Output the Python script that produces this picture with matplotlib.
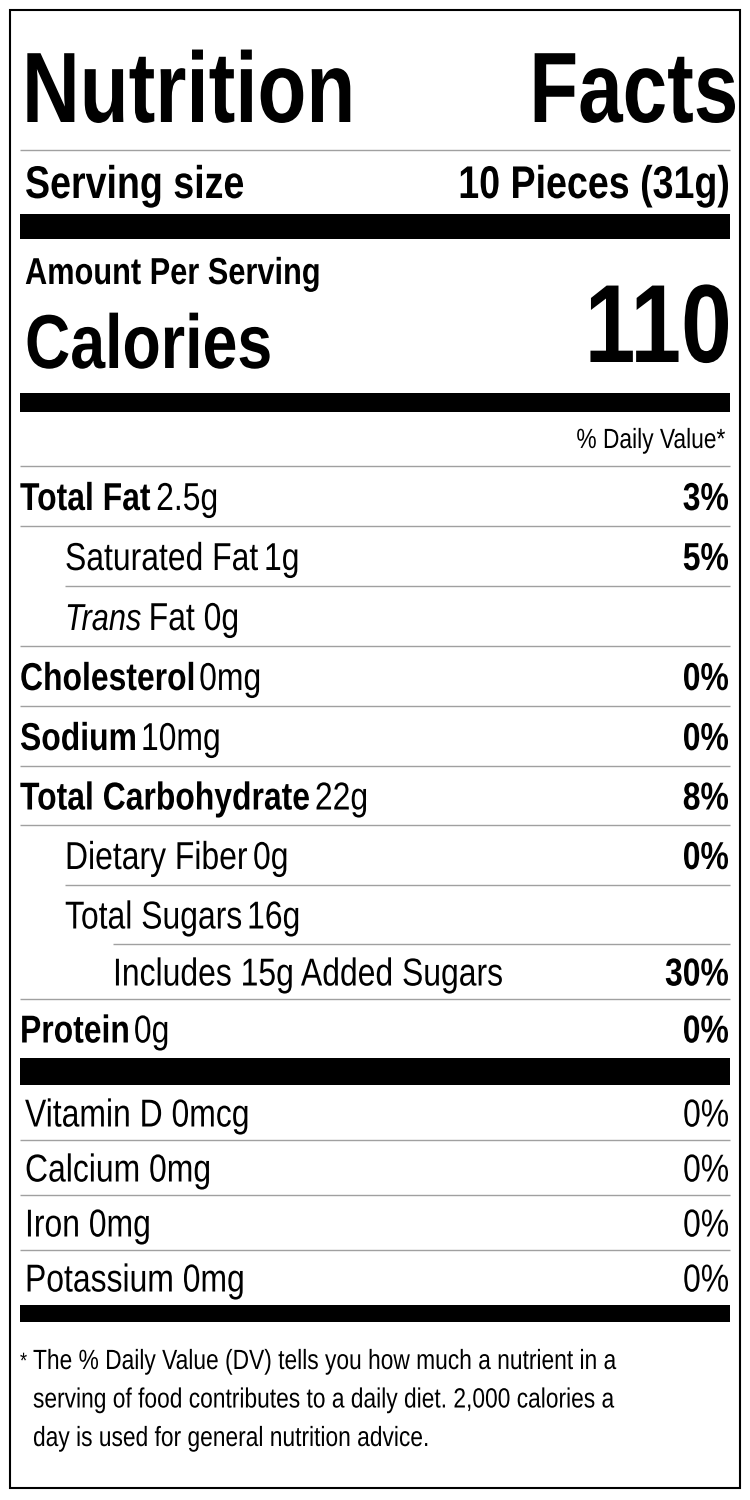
import matplotlib.pyplot as plt
from matplotlib.patches import Rectangle, PathPatch
from matplotlib.textpath import TextPath
from matplotlib.font_manager import FontProperties
from matplotlib.transforms import Affine2D

# ---- label data
SERVING      = '10 Pieces (31g)'
CALORIES     = '110'
NUTRIENTS    = ['Total Fat', 'Saturated Fat', 'Trans Fat', 'Cholesterol', 'Sodium',
                'Total Carbohydrate', 'Dietary Fiber', 'Total Sugars',
                'Includes 15g Added Sugars', 'Protein']
AMOUNTS      = ['2.5g', '1g', '0g', '0mg', '10mg', '22g', '0g', '16g', '', '0g']
DAILY        = ['3%', '5%', '', '0%', '0%', '8%', '0%', '', '30%', '0%']
LEVEL        = [0, 1, 1, 0, 0, 0, 1, 1, 2, 0]
VITAMINS     = ['Vitamin D 0mcg', 'Calcium 0mg', 'Iron 0mg', 'Potassium 0mg']
VIT_DAILY    = ['0%', '0%', '0%', '0%']
FOOTNOTE     = ['The % Daily Value (DV) tells you how much a nutrient in a',
                'serving of food contributes to a daily diet. 2,000 calories a',
                'day is used for general nutrition advice.']

FAMILY = 'Liberation Sans'
SQUEEZE = 0.82   # fake a narrow face by squashing horizontally

fig = plt.figure(figsize=(7.5, 15), dpi=100)
ax = fig.add_axes([0, 0, 1, 1])
ax.set_xlim(0, 750)
ax.set_ylim(1500, 0)
ax.axis('off')


def ntext(x, y, s, size, weight='normal', style='normal', ha='left', sq=SQUEEZE):
    '''Draw narrow text as a path; y is baseline, size in points. Returns right edge.'''
    fp = FontProperties(family=FAMILY, weight=weight, style=style)
    px = size * 100 / 72
    tp = TextPath((0, 0), s, size=px, prop=fp)
    ext = tp.get_extents()
    w = ext.x1 * sq
    if ha == 'right':
        x0 = x - w
    else:
        x0 = x
    tr = Affine2D().scale(sq, -1).translate(x0, y) + ax.transData
    ax.add_patch(PathPatch(tp, transform=tr, color='black', lw=0))
    return x0 + w


L, R = 20, 730

def hline(y, x0=L):
    ax.plot([x0, R], [y, y], color='#a0a0a0', lw=1.0, solid_capstyle='butt')

def bar(y0, y1):
    ax.add_patch(Rectangle((L, y0), R - L, y1 - y0, color='black', lw=0))

# border
ax.add_patch(Rectangle((10, 10), 730, 1478, fill=False, ec='black', lw=1.5))

# title
ntext(22, 122, 'Nutrition', 72, weight='bold', sq=0.80)
ntext(735, 122, 'Facts', 72, weight='bold', ha='right', sq=0.80)
hline(150)

ntext(25, 198, 'Serving size', 33, weight='bold')
ntext(728, 198, SERVING, 33, weight='bold', ha='right')
bar(214, 239)

ntext(25, 284, 'Amount Per Serving', 27, weight='bold')
ntext(25, 368, 'Calories', 55, weight='bold')
ntext(728, 362, CALORIES, 80, weight='bold', ha='right')
bar(393, 412)

ntext(725, 448, '% Daily Value*', 20, ha='right')
hline(466)

indent = [20, 65, 113]
rows_y = [466, 526, 586, 646, 706, 766, 825, 885, 944, 999, 1058]
for i, name in enumerate(NUTRIENTS):
    top, bot = rows_y[i], rows_y[i + 1]
    base = (top + bot) / 2 + 14
    x = indent[LEVEL[i]]
    bold = LEVEL[i] == 0
    if name == 'Trans Fat':
        xe = ntext(x, base, 'Trans', 27, style='italic')
        ntext(xe + 8, base, 'Fat ' + AMOUNTS[i], 28)
    else:
        xe = ntext(x, base, name, 28, weight='bold' if bold else 'normal')
        if AMOUNTS[i]:
            ntext(xe + 6, base, AMOUNTS[i], 28)
    if DAILY[i]:
        ntext(728, base, DAILY[i], 28, weight='bold', ha='right')
    if i + 1 < len(NUTRIENTS):
        nxt = LEVEL[i + 1]
        hline(bot, x0=indent[nxt] if nxt > 0 and LEVEL[i] > 0 else L)
bar(1058, 1085)

vit_y = [1085, 1140, 1195, 1250, 1305]
for i, v in enumerate(VITAMINS):
    base = (vit_y[i] + vit_y[i + 1]) / 2 + 14
    ntext(25, base, v, 28)
    ntext(728, base, VIT_DAILY[i], 28, ha='right')
    if i < len(VITAMINS) - 1:
        hline(vit_y[i + 1])
bar(1305, 1322)

ntext(20, 1368, '*', 16)
for i, line in enumerate(FOOTNOTE):
    ntext(33, 1369 + i * 38.5, line, 20)

fig.savefig('out.png', dpi=100)
